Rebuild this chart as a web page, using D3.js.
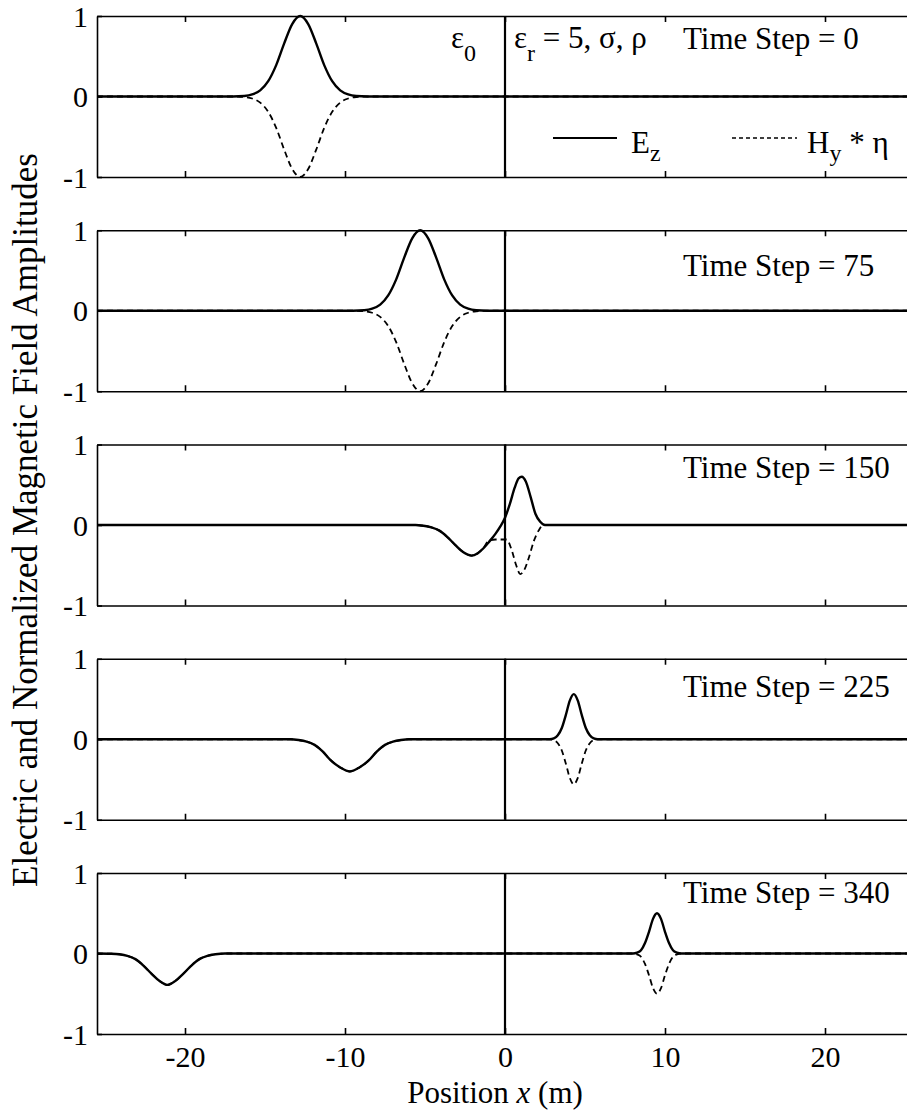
<!DOCTYPE html>
<html>
<head>
<meta charset="utf-8">
<script src="https://cdn.jsdelivr.net/npm/d3@7"></script>
<style>
  body { margin: 0; background: #fff; }
  svg text { font-family: "Liberation Serif", "DejaVu Serif", "Times New Roman", serif; fill: #000; }
</style>
</head>
<body>
<div id="plot"></div>
<script>
(function() {
"use strict";

// time steps shown in each panel (top to bottom)
const timeSteps = [0, 75, 150, 225, 340];

// [x (m), value] pairs
const ez0 = [[-25.5,0],[-17.0,0],[-16.3,0.006],[-15.8,0.025],[-15.3,0.076],[-14.8,0.19],[-14.3,0.39],[-13.8,0.66],[-13.3,0.9],[-12.8,1],[-12.3,0.9],[-11.8,0.66],[-11.3,0.39],[-10.8,0.19],[-10.3,0.076],[-9.8,0.025],[-9.3,0.006],[-8.6,0],[25.5,0]];
const hy0 = [[-25.5,0],[-17.0,0],[-16.3,-0.006],[-15.8,-0.025],[-15.3,-0.076],[-14.8,-0.19],[-14.3,-0.39],[-13.8,-0.66],[-13.3,-0.9],[-12.8,-1],[-12.3,-0.9],[-11.8,-0.66],[-11.3,-0.39],[-10.8,-0.19],[-10.3,-0.076],[-9.8,-0.025],[-9.3,-0.006],[-8.6,0],[25.5,0]];

const ez75 = [[-25.5,0],[-9.5,0],[-8.8,0.006],[-8.3,0.025],[-7.8,0.076],[-7.3,0.19],[-6.8,0.39],[-6.3,0.66],[-5.8,0.9],[-5.3,1],[-4.8,0.9],[-4.3,0.66],[-3.8,0.39],[-3.3,0.19],[-2.8,0.076],[-2.3,0.025],[-1.8,0.006],[-1.1,0],[25.5,0]];
const hy75 = [[-25.5,0],[-9.5,0],[-8.8,-0.006],[-8.3,-0.025],[-7.8,-0.076],[-7.3,-0.19],[-6.8,-0.39],[-6.3,-0.66],[-5.8,-0.9],[-5.3,-1],[-4.8,-0.9],[-4.3,-0.66],[-3.8,-0.39],[-3.3,-0.19],[-2.8,-0.076],[-2.3,-0.025],[-1.8,-0.006],[-1.1,0],[25.5,0]];

const ez150 = [[-25.5,0],[-5.6,0],[-5.1,-0.01],[-4.6,-0.03],[-4.1,-0.07],[-3.6,-0.15],[-3.1,-0.25],[-2.6,-0.34],[-2.1,-0.38],[-1.7,-0.35],[-1.3,-0.28],[-1.0,-0.21],[-0.6,-0.11],[-0.3,-0.02],[0,0.09],[0.3,0.26],[0.6,0.46],[0.85,0.58],[1.05,0.6],[1.3,0.54],[1.6,0.35],[1.9,0.14],[2.2,0.04],[2.5,0],[25.5,0]];
const hy150 = [[-25.5,0],[-5.6,0],[-5.1,-0.01],[-4.6,-0.03],[-4.1,-0.07],[-3.6,-0.15],[-3.1,-0.25],[-2.6,-0.34],[-2.1,-0.38],[-1.7,-0.35],[-1.3,-0.27],[-1.05,-0.2],[-0.6,-0.18],[0.1,-0.18],[0.4,-0.3],[0.7,-0.5],[0.95,-0.61],[1.2,-0.56],[1.5,-0.4],[1.8,-0.2],[2.1,-0.07],[2.4,0],[25.5,0]];

const ez225 = [[-25.5,0],[-13.4,0],[-12.9,-0.01],[-12.4,-0.03],[-11.9,-0.07],[-11.4,-0.15],[-10.9,-0.26],[-10.3,-0.35],[-9.7,-0.4],[-9.1,-0.35],[-8.5,-0.26],[-8.0,-0.15],[-7.5,-0.07],[-7.0,-0.03],[-6.5,-0.01],[-6.0,0],[2.8,0],[3.05,0.01],[3.3,0.05],[3.55,0.14],[3.8,0.3],[4.05,0.48],[4.3,0.56],[4.55,0.48],[4.8,0.3],[5.05,0.14],[5.3,0.05],[5.55,0.01],[5.8,0],[25.5,0]];
const hy225 = [[-25.5,0],[-13.4,0],[-12.9,-0.01],[-12.4,-0.03],[-11.9,-0.07],[-11.4,-0.15],[-10.9,-0.26],[-10.3,-0.35],[-9.7,-0.4],[-9.1,-0.35],[-8.5,-0.26],[-8.0,-0.15],[-7.5,-0.07],[-7.0,-0.03],[-6.5,-0.01],[-6.0,0],[2.8,0],[3.05,-0.01],[3.3,-0.05],[3.55,-0.14],[3.8,-0.3],[4.05,-0.48],[4.3,-0.56],[4.55,-0.48],[4.8,-0.3],[5.05,-0.14],[5.3,-0.05],[5.55,-0.01],[5.8,0],[25.5,0]];

const ez340 = [[-25.5,0],[-24.6,-0.003],[-24.1,-0.01],[-23.6,-0.03],[-23.1,-0.07],[-22.6,-0.15],[-22.1,-0.25],[-21.6,-0.34],[-21.1,-0.39],[-20.6,-0.34],[-20.1,-0.25],[-19.6,-0.15],[-19.1,-0.07],[-18.6,-0.03],[-18.1,-0.01],[-17.5,0],[8.0,0],[8.25,0.01],[8.5,0.04],[8.75,0.13],[9.0,0.27],[9.25,0.43],[9.5,0.5],[9.75,0.43],[10.0,0.27],[10.25,0.13],[10.5,0.04],[10.75,0.01],[11.0,0],[25.5,0]];
const hy340 = [[-25.5,0],[-24.6,-0.003],[-24.1,-0.01],[-23.6,-0.03],[-23.1,-0.07],[-22.6,-0.15],[-22.1,-0.25],[-21.6,-0.34],[-21.1,-0.39],[-20.6,-0.34],[-20.1,-0.25],[-19.6,-0.15],[-19.1,-0.07],[-18.6,-0.03],[-18.1,-0.01],[-17.5,0],[8.0,0],[8.25,-0.01],[8.5,-0.04],[8.75,-0.13],[9.0,-0.27],[9.25,-0.43],[9.5,-0.5],[9.75,-0.43],[10.0,-0.27],[10.25,-0.13],[10.5,-0.04],[10.75,-0.01],[11.0,0],[25.5,0]];

const ezSeries = [ez0, ez75, ez150, ez225, ez340];
const hySeries = [hy0, hy75, hy150, hy225, hy340];

const xTicks = [-20, -10, 0, 10, 20];
const yTicks = [-1, 0, 1];
const xDomain = [-25.5, 25.5];
const yDomain = [-1, 1];

const WIDTH = 907;
const HEIGHT = 1116;
const LEFT = 97;
const RIGHT = 913;
const TOP0 = 16;
const STEP = 214.25;
const PANEL_H = 161;
const LABEL_DY = [33, 46, 33, 38, 30];
const FONT = '"Liberation Serif", "DejaVu Serif", "Times New Roman", serif';

const SVG = d3.select("#plot")
  .append("svg")
  .attr("width", WIDTH)
  .attr("height", HEIGHT);

const xScale = d3.scaleLinear().domain(xDomain).range([LEFT, RIGHT]);

const line = (yScale) => d3.line()
  .x(d => xScale(d[0]))
  .y(d => yScale(d[1]))
  .curve(d3.curveMonotoneX);

timeSteps.forEach((t, i) => {
  const top = TOP0 + i * STEP;
  const yScale = d3.scaleLinear().domain(yDomain).range([top + PANEL_H, top]);
  const last = i === timeSteps.length - 1;
  const g = SVG.append("g").attr("class", "panel");

  // bottom axis (labels only on the last panel)
  const xb = g.append("g")
    .attr("transform", `translate(0, ${top + PANEL_H})`)
    .call(d3.axisBottom(xScale).tickValues(xTicks)
      .tickSizeInner(-6).tickSizeOuter(0).tickPadding(12)
      .tickFormat(last ? (d => String(d)) : () => ""));

  const xt = g.append("g")
    .attr("transform", `translate(0, ${top})`)
    .call(d3.axisTop(xScale).tickValues(xTicks)
      .tickSizeInner(-6).tickSizeOuter(0).tickFormat(() => ""));

  const yl = g.append("g")
    .attr("transform", `translate(${LEFT}, 0)`)
    .call(d3.axisLeft(yScale).tickValues(yTicks)
      .tickSizeInner(-5).tickSizeOuter(0).tickPadding(9)
      .tickFormat(d => String(d)));

  [xb, xt, yl].forEach(a => {
    a.attr("font-family", null);
    a.selectAll("path, line").attr("stroke", "#000").attr("stroke-width", 1.6);
    a.selectAll("text").style("font-size", "30px").attr("fill", "#000")
      .style("font-family", FONT);
  });
  yl.selectAll("text").attr("dy", "0.34em");

  // interface at x = 0
  g.append("line")
    .attr("x1", xScale(0)).attr("x2", xScale(0))
    .attr("y1", yScale(-1)).attr("y2", yScale(1))
    .attr("stroke", "#000").attr("stroke-width", 2.2);

  g.append("path")
    .datum(hySeries[i])
    .attr("d", line(yScale))
    .attr("fill", "none")
    .attr("stroke", "#000")
    .attr("stroke-width", 1.8)
    .attr("stroke-dasharray", "6,4");

  g.append("path")
    .datum(ezSeries[i])
    .attr("d", line(yScale))
    .attr("fill", "none")
    .attr("stroke", "#000")
    .attr("stroke-width", 2.4);

  g.append("text")
    .attr("x", 683)
    .attr("y", top + LABEL_DY[i])
    .style("font-size", "31px")
    .text(`Time Step = ${t}`);

  if (i === 0) {
    // region labels
    const e0 = g.append("text").attr("x", 451).attr("y", top + 32).style("font-size", "31px");
    e0.append("tspan").text("ε");
    e0.append("tspan").attr("dy", 13).style("font-size", "24px").text("0");

    const er = g.append("text").attr("x", 514).attr("y", top + 32).style("font-size", "31px");
    er.append("tspan").text("ε");
    er.append("tspan").attr("dy", 13).style("font-size", "24px").text("r");
    er.append("tspan").attr("dy", -13).text(" = 5, σ, ρ");

    // legend
    const ly = top + 122;
    g.append("line").attr("x1", 553).attr("x2", 617).attr("y1", ly).attr("y2", ly)
      .attr("stroke", "#000").attr("stroke-width", 2.2);
    const lE = g.append("text").attr("x", 631).attr("y", ly + 15).style("font-size", "31px");
    lE.append("tspan").text("E");
    lE.append("tspan").attr("dy", 8).style("font-size", "24px").text("z");

    g.append("line").attr("x1", 732).attr("x2", 797).attr("y1", ly).attr("y2", ly)
      .attr("stroke", "#000").attr("stroke-width", 1.6).attr("stroke-dasharray", "4,3");
    const lH = g.append("text").attr("x", 807).attr("y", ly + 15).style("font-size", "31px");
    lH.append("tspan").text("H");
    lH.append("tspan").attr("dy", 8).style("font-size", "24px").text("y");
    lH.append("tspan").attr("dy", -8).text(" * η");
  }
});

// axis titles
SVG.append("text")
  .attr("transform", "translate(37, 520) rotate(-90)")
  .attr("text-anchor", "middle")
  .style("font-size", "35px")
  .text("Electric and Normalized Magnetic Field Amplitudes");

const xl = SVG.append("text")
  .attr("x", 495)
  .attr("y", 1103)
  .attr("text-anchor", "middle")
  .style("font-size", "31px");
xl.append("tspan").text("Position ");
xl.append("tspan").style("font-style", "italic").text("x");
xl.append("tspan").text(" (m)");

})();
</script>
</body>
</html>
